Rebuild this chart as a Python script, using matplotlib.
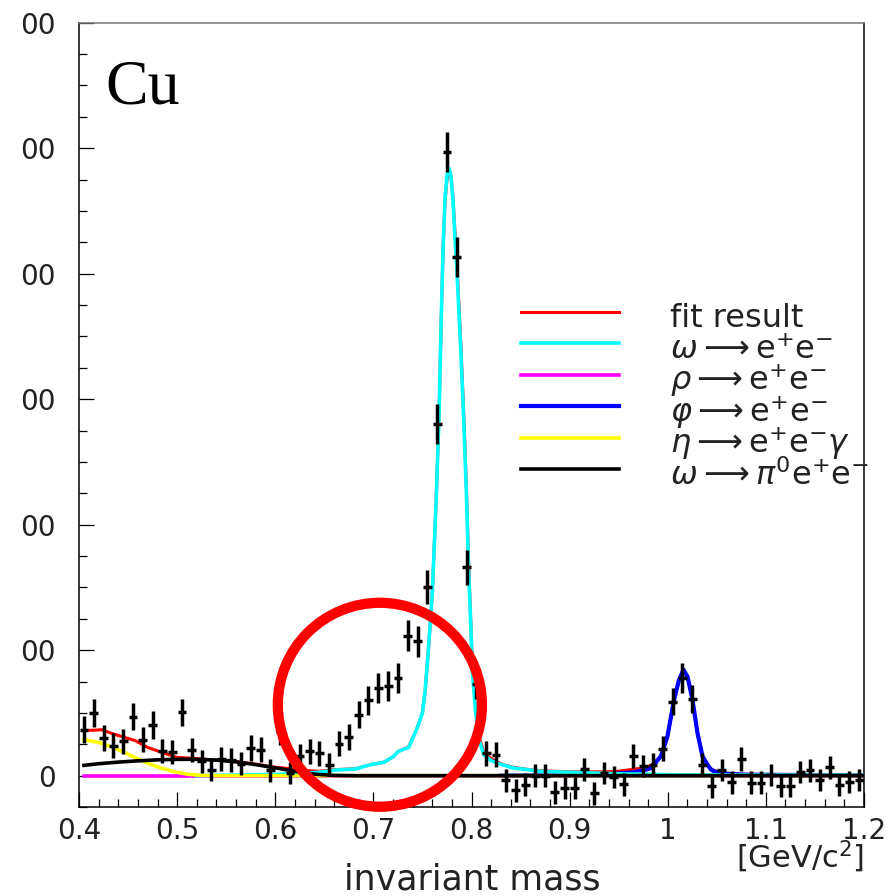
import matplotlib
matplotlib.use('Agg')
import matplotlib.pyplot as plt
from matplotlib.patches import Ellipse
from matplotlib.ticker import FixedLocator, MultipleLocator

# histogram (bin centres, counts, errors)
BIN_X = [0.405, 0.415, 0.425, 0.435, 0.445, 0.455, 0.465, 0.475, 0.485, 0.495,
         0.505, 0.515, 0.525, 0.535, 0.545, 0.555, 0.565, 0.575, 0.585, 0.595,
         0.605, 0.615, 0.625, 0.635, 0.645, 0.655, 0.665, 0.675, 0.685, 0.695,
         0.705, 0.715, 0.725, 0.735, 0.745, 0.755, 0.765, 0.775, 0.785, 0.795,
         0.805, 0.815, 0.825, 0.835, 0.845, 0.855, 0.865, 0.875, 0.885, 0.895,
         0.905, 0.915, 0.925, 0.935, 0.945, 0.955, 0.965, 0.975, 0.985, 0.995,
         1.005, 1.015, 1.025, 1.035, 1.045, 1.055, 1.065, 1.075, 1.085, 1.095,
         1.105, 1.115, 1.125, 1.135, 1.145, 1.155, 1.165, 1.175, 1.185, 1.195]
COUNTS = [36.6, 50, 30, 24, 27.3, 47, 28.7, 40.6, 19.4, 18.6,
          50.4, 20.7, 11.4, 4.8, 13.3, 12.7, 9.6, 22, 20.7, 4.2,
          35, 2, 16, 19.4, 18, 8.8, 25.5, 30.8, 48.6, 60,
          69.8, 71.7, 77.8, 111.5, 107, 150, 280, 497, 413, 166,
          73, 18, 16.7, -3.7, -11.7, -7.2, 0, 0, -13.3, -9.8,
          -9.8, 5, -14, 2, -1, -7, 15.6, 7.6, 8.8, 21.5,
          59, 78, 61, 8.8, -8.6, 4.4, -5.3, 13.3, -5.5, -5.5,
          0.4, -8.3, -8, 3, 4.3, -3.6, 6.5, -7.6, -5, -3.6]
ERRORS = [10.6, 11, 10, 10, 10, 11, 10, 11, 9.5, 9.5,
          11, 9.5, 9, 9, 9.5, 9.5, 9, 10, 10, 9,
          10.5, 9, 9.5, 10, 10, 9, 10, 10.5, 11, 11.5,
          12, 12, 12, 12.5, 12.5, 13.5, 16, 16, 16, 14,
          12, 10, 10, 9, 9, 9, 9, 9, 9, 9,
          9, 9, 9, 9, 9, 9, 9.5, 9, 9, 10,
          11, 12, 11, 9, 9, 9, 9, 9.5, 9, 9,
          9, 9, 9, 9, 9, 9, 9, 9, 9, 9]

# fit components
FIT_X = [0.405, 0.415, 0.423, 0.434, 0.444, 0.457, 0.47, 0.484, 0.5, 0.514,
         0.534, 0.557, 0.577, 0.597, 0.619, 0.632, 0.645, 0.662, 0.682, 0.697,
         0.7105, 0.72, 0.7255, 0.736, 0.7446, 0.75, 0.753, 0.756, 0.76, 0.764,
         0.767, 0.769, 0.771, 0.773, 0.775, 0.777, 0.779, 0.781, 0.783, 0.785,
         0.787, 0.789, 0.792, 0.795, 0.797, 0.7995, 0.801, 0.804, 0.8075, 0.8125,
         0.82, 0.826, 0.833, 0.843, 0.857, 0.867, 0.901, 0.935, 0.95, 0.962,
         0.974, 0.983, 0.9929, 0.9997, 1.0064, 1.0115, 1.016, 1.0201, 1.0252, 1.0303,
         1.0354, 1.0405, 1.0439, 1.0473, 1.054, 1.0575, 1.078, 1.2]
FIT_Y = [36, 36.2, 36.6, 33.5, 31, 28, 22.5, 18.6, 14.5, 14,
         12.7, 11.4, 9.6, 7, 5.3, 4, 3.5, 4.8, 5.5, 8.8,
         10.6, 15, 19.4, 23, 38, 50, 70, 100, 145, 220,
         290, 360, 420, 458, 475, 482, 478, 462, 435, 410,
         378, 345, 290, 225, 170, 118, 85, 55, 31, 19,
         13.5, 11, 8.5, 6.5, 5, 4, 3, 3, 3.5, 4.8,
         6, 8, 15.4, 31.3, 60.5, 76.4, 84.4, 79, 60.5, 34,
         15.4, 8.8, 5.5, 4, 2.5, 2, 1, 0.5]

OMEGA_X = [0.52, 0.56, 0.6, 0.63, 0.645, 0.662, 0.682, 0.697, 0.7105,
           0.72, 0.7255, 0.736, 0.7446, 0.75, 0.753, 0.756, 0.76, 0.764, 0.767,
           0.769, 0.771, 0.773, 0.775, 0.777, 0.779, 0.781, 0.783, 0.785, 0.787,
           0.789, 0.792, 0.795, 0.797, 0.7995, 0.801, 0.804, 0.8075, 0.8125, 0.82,
           0.826, 0.843, 0.857, 0.87, 0.904, 0.95, 1.0, 1.05, 1.2]
OMEGA_Y = [0, 0.5, 1.0, 2, 2.7, 4.5, 5.3, 8.8, 10.6,
           15, 19.4, 22.5, 38, 50, 70, 100, 145, 220, 290,
           360, 420, 460, 478, 484, 478, 460, 430, 405, 372,
           340, 285, 220, 165, 115, 82, 52, 29, 16.7, 12,
           10, 6, 4.8, 3.4, 2.6, 1.5, 0.8, 0.5, 0.3]

RHO_X = [0.405, 0.8, 1.2]
RHO_Y = [0, 0, 0]

PHI_X = [0.83, 0.9, 0.94, 0.9656, 0.974, 0.983, 0.9929, 0.9997, 1.0064, 1.0115,
         1.016, 1.0201, 1.0252, 1.0303, 1.0354, 1.0405, 1.0439, 1.0473, 1.054, 1.0575,
         1.078, 1.2]
PHI_Y = [0, 0.3, 1.2, 2.7, 4, 6, 15.4, 31.3, 60.5, 76.4,
         84.4, 79, 60.5, 34, 15.4, 8.8, 5, 3.4, 2.1, 1.6,
         0.8, 0.2]

ETA_X = [0.405, 0.42, 0.435, 0.45, 0.465, 0.48, 0.495, 0.51, 0.525, 0.54, 1.2]
ETA_Y = [28.7, 26.5, 22.5, 17, 11.5, 7, 3.5, 1.2, 0.2, 0, 0]

DALITZ_X = [0.405, 0.42, 0.44, 0.46, 0.48, 0.5, 0.52, 0.54, 0.56, 0.58,
            0.6, 0.62, 0.64, 0.66, 0.68, 1.2]
DALITZ_Y = [8.2, 9.5, 10.8, 11.8, 12.6, 13.0, 13.0, 12.4, 11.0, 8.8,
            6.2, 3.5, 1.2, 0.2, 0, 0]

LABELS = ['fit result',
          r'$\omega \longrightarrow \mathrm{e}^{+}\mathrm{e}^{-}$',
          r'$\rho \longrightarrow \mathrm{e}^{+}\mathrm{e}^{-}$',
          r'$\varphi \longrightarrow \mathrm{e}^{+}\mathrm{e}^{-}$',
          r'$\eta \longrightarrow \mathrm{e}^{+}\mathrm{e}^{-}\gamma$',
          r'$\omega \longrightarrow \pi^{0}\mathrm{e}^{+}\mathrm{e}^{-}$']

X_TICKS = [0.4, 0.5, 0.6, 0.7, 0.8, 0.9, 1.0, 1.1, 1.2]
X_TICK_LABELS = ['0.4', '0.5', '0.6', '0.7', '0.8', '0.9', '1', '1.1', '1.2']
Y_TICKS = [0, 100, 200, 300, 400, 500, 600]
Y_TICK_LABELS = ['0', '00', '00', '00', '00', '00', '00']

# region highlighted by the red ring
RING_CENTER = (0.7066, 56.5)
RING_SIZE = (0.208, 162.5)

plt.rcParams['mathtext.fontset'] = 'dejavusans'

fig = plt.figure(figsize=(8.92, 8.96), dpi=100)
ax = fig.add_axes([0.0886, 0.0993, 0.88, 0.8754])

lw = 2.6
l_fit, = ax.plot(FIT_X, FIT_Y, color='#ff0000', lw=2.2, zorder=3)
l_phi, = ax.plot(PHI_X, PHI_Y, color='#0000ff', lw=lw + 0.4, zorder=3.2)
l_rho, = ax.plot(RHO_X, RHO_Y, color='#ff00ff', lw=lw, zorder=3.5)
l_om, = ax.plot(OMEGA_X, OMEGA_Y, color='#00ffff', lw=lw, zorder=4)
l_eta, = ax.plot(ETA_X, ETA_Y, color='#ffff00', lw=lw, zorder=4.4)
l_dal, = ax.plot(DALITZ_X, DALITZ_Y, color='black', lw=lw, zorder=4.6)

ax.errorbar(BIN_X, COUNTS, yerr=ERRORS, xerr=0.0045, fmt='none', ecolor='black',
            elinewidth=2.5, capsize=0, zorder=5)

ring = Ellipse(RING_CENTER, RING_SIZE[0], RING_SIZE[1], fill=False,
               edgecolor='#ff0000', lw=7.4, zorder=8, clip_on=False)
ax.add_patch(ring)

ax.set_xlim(0.4, 1.2)
ax.set_ylim(-25, 600)
ax.xaxis.set_major_locator(FixedLocator(X_TICKS))
ax.set_xticklabels(X_TICK_LABELS)
ax.xaxis.set_minor_locator(MultipleLocator(0.02))
ax.yaxis.set_major_locator(FixedLocator(Y_TICKS))
ax.set_yticklabels(Y_TICK_LABELS)
ax.yaxis.set_minor_locator(MultipleLocator(25))
ax.tick_params(which='both', direction='in', top=False, right=False, width=0.9)
ax.tick_params(which='major', length=11)
ax.tick_params(which='minor', length=5.5)
ax.tick_params(axis='x', which='major', pad=7, labelsize=20, labelcolor='#222222')
ax.tick_params(axis='y', which='major', pad=17, labelsize=20, labelcolor='#222222')
for s in ax.spines.values():
    s.set_linewidth(1.1)
ax.spines['top'].set_color('#777777')

ax.text(0.033, 0.897, 'Cu', transform=ax.transAxes, fontsize=46,
        family='Liberation Serif', ha='left', va='baseline')

fig.text(0.530, 0.007, 'invariant mass', fontsize=25, ha='center', va='baseline',
         color='#222222')
fig.text(0.9686, 0.031, r'[GeV/c$^{2}$]', fontsize=22, ha='right', va='baseline',
         color='#222222')

# taller handle boxes keep the rows evenly spaced whatever the label height
ax.legend([l_fit, l_om, l_rho, l_phi, l_eta, l_dal], LABELS,
          loc='upper left', bbox_to_anchor=(0.563, 0.651), frameon=False,
          fontsize=23, handlelength=3.07, handletextpad=1.6, handleheight=1.6,
          labelspacing=-0.30, borderpad=0, borderaxespad=0, labelcolor='#222222')

fig.savefig('out.png', dpi=100)
